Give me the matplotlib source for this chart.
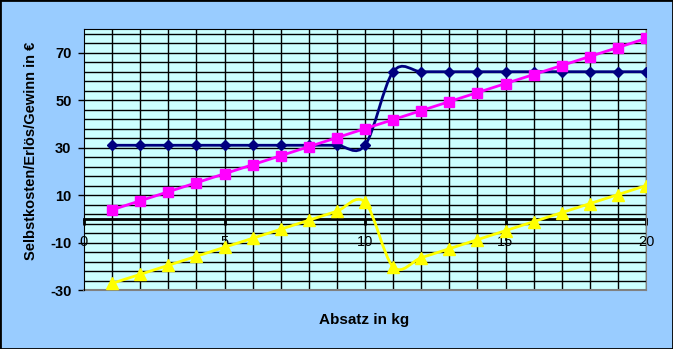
import matplotlib
matplotlib.use('Agg')
import matplotlib.pyplot as plt
import numpy as np
from matplotlib.path import Path
from matplotlib.patches import PathPatch

# Absatz in kg
absatz = [1, 2, 3, 4, 5, 6, 7, 8, 9, 10, 11, 12, 13, 14, 15, 16, 17, 18, 19, 20]
# Selbstkosten
kosten = [31, 31, 31, 31, 31, 31, 31, 31, 31, 31,
          62, 62, 62, 62, 62, 62, 62, 62, 62, 62]
# Erlös
erloes = [3.8, 7.6, 11.4, 15.2, 19.0, 22.8, 26.6, 30.4, 34.2, 38.0,
          41.8, 45.6, 49.4, 53.2, 57.0, 60.8, 64.6, 68.4, 72.2, 76.0]
# Gewinn
gewinn = [-27.2, -23.4, -19.6, -15.8, -12.0, -8.2, -4.4, -0.6, 3.2, 7.0,
          -20.2, -16.4, -12.6, -8.8, -5.0, -1.2, 2.6, 6.4, 10.2, 14.0]

x_ticks = [0, 5, 10, 15, 20]
y_ticks = [-30, -10, 10, 30, 50, 70]

BG = '#99CCFF'
PLOT_BG = '#CCFFFF'


def smooth_path(x, y):
    # Excel-style smoothed line: cubic Bezier with Catmull-Rom control points
    pts = np.column_stack([x, y]).astype(float)
    verts = [pts[0]]
    codes = [Path.MOVETO]
    n = len(pts)
    for i in range(n - 1):
        p0 = pts[i - 1] if i > 0 else pts[i]
        p1 = pts[i]
        p2 = pts[i + 1]
        p3 = pts[i + 2] if i + 2 < n else pts[i + 1]
        c1 = p1 + (p2 - p0) / 6
        c2 = p2 - (p3 - p1) / 6
        verts += [c1, c2, p2]
        codes += [Path.CURVE4] * 3
    return Path(verts, codes)


def plot_series(ax, x, y, color, marker, ms):
    ax.add_patch(PathPatch(smooth_path(x, y), facecolor='none',
                           edgecolor=color, lw=2, zorder=3))
    ax.plot(x, y, linestyle='none', marker=marker, ms=ms,
            color=color, zorder=4)


def main():
    plt.rcParams['font.family'] = ['Liberation Sans', 'DejaVu Sans']
    plt.rcParams['axes.unicode_minus'] = False
    fig = plt.figure(figsize=(6.73, 3.49), dpi=100, facecolor=BG)
    ax = fig.add_axes([84 / 673, 1 - 290 / 349, 562 / 673, 261 / 349])
    ax.set_facecolor(PLOT_BG)

    ax.set_xlim(0, 20)
    ax.set_ylim(-30, 80)

    # grid
    for gx in range(1, 21):
        ax.axvline(gx, color='black', lw=1, zorder=1)
    for gy in np.arange(-26, 80, 4):
        ax.axhline(gy, color='black', lw=1, zorder=1)

    plot_series(ax, absatz, kosten, '#000080', 'D', 5)
    plot_series(ax, absatz, erloes, '#FF00FF', 's', 7)
    plot_series(ax, absatz, gewinn, '#FFFF00', '^', 8)

    ax.spines['bottom'].set_position(('data', 0))
    ax.spines['bottom'].set_linewidth(2)
    ax.spines['bottom'].set_zorder(2)
    ax.spines['left'].set_color('black')
    ax.spines['top'].set_color('black')
    ax.spines['right'].set_color('#808080')
    ax.axhline(-30, color='#808080', lw=1.5, clip_on=False, zorder=2)

    ax.set_xticks(x_ticks)
    ax.set_yticks(y_ticks)
    ax.tick_params(axis='x', direction='out', length=4, width=2, pad=8,
                   labelsize=10.5)
    ax.tick_params(axis='y', direction='out', length=4, width=1, pad=5,
                   labelsize=10.5)
    for lab in ax.get_yticklabels():
        lab.set_fontweight('bold')

    fig.text(31 / 673, 1 - 151 / 349, 'Selbstkosten/Erlös/Gewinn in €',
             rotation=90, ha='center', va='center', fontsize=10.5,
             fontweight='bold')
    fig.text(364 / 673, 1 - 320 / 349, 'Absatz in kg', ha='center',
             va='center', fontsize=11, fontweight='bold')

    # outer border
    fig.patches.append(plt.Rectangle((0, 0), 1, 1, transform=fig.transFigure,
                                     fill=False, edgecolor='black', lw=2))
    fig.savefig('out.png', dpi=100, facecolor=BG)


if __name__ == '__main__':
    main()
